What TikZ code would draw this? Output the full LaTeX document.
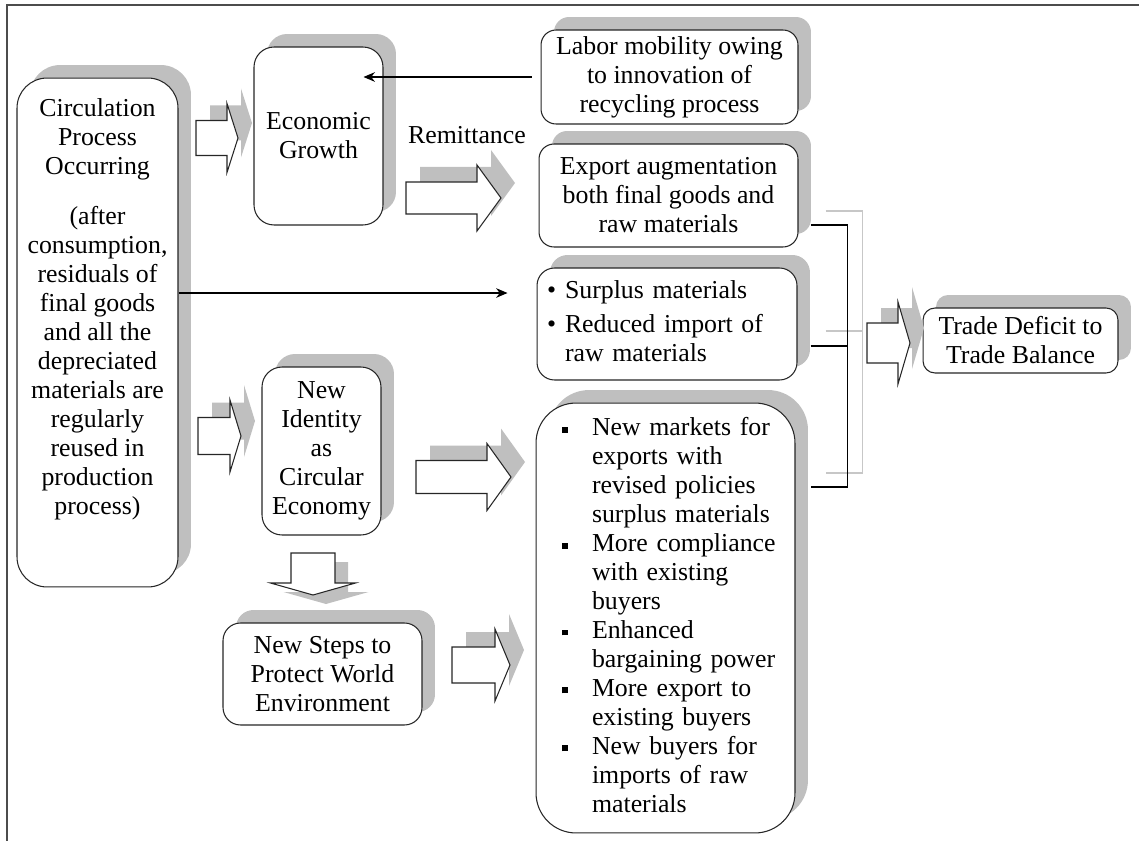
\documentclass[tikz,border=0pt]{standalone}
\usepackage{fontspec}
\setmainfont{Liberation Serif}
\usepackage{tikz}
\usetikzlibrary{shadows,positioning,calc,arrows.meta}

\newcommand{\sqbullet}{\rule[1.6pt]{3.4pt}{3.4pt}}

\tikzset{
    box/.style={rectangle, draw=black!85, line width=0.6pt, fill=white, rounded corners=#1,
        align=center, inner sep=2pt,
        drop shadow={shadow xshift=0.26cm, shadow yshift=0.26cm, fill=black!25, opacity=1}},
    box/.default=0.3cm,
    blockline/.style={draw=black!85, line width=0.6pt, fill=white},
    % length / head length / half shaft / half head / shadow x / shadow y
    pics/blockarrow/.style args={#1/#2/#3/#4/#5/#6}{code={
        \fill[black!25, shift={(#5,#6)}] (0,-#3) -- ++(#1-#2,0) -- ++(0,#3-#4) -- ++(#2,#4) -- ++(-#2,#4) -- ++(0,#3-#4) -- ++(#2-#1,0) -- cycle;
        \draw[blockline] (0,-#3) -- ++(#1-#2,0) -- ++(0,#3-#4) -- ++(#2,#4) -- ++(-#2,#4) -- ++(0,#3-#4) -- ++(#2-#1,0) -- cycle;
    }},
    arrow/.style={-{Stealth[length=6.5pt,width=5.5pt]}, line width=0.6pt},
    link/.style={line width=0.6pt},
    linkshade/.style={line width=0.6pt, black!22},
    frame/.style={line width=1.2pt, black!70},
    every node/.style={font=\fontsize{14.7}{16.5}\selectfont}
}

\begin{document}
\begin{tikzpicture}[x=0.02cm, y=-0.02cm]
    \useasboundingbox (0,0) rectangle (1139,841);
    \draw[frame] (1139,5) -- (7,5) -- (7,841);

    % boxes
    \node[box=0.6cm, minimum width=3.22cm, minimum height=10.18cm] (circ) at (97.5,332.5)
        {Circulation\\Process\\Occurring\\[0.42cm](after\\consumption,\\residuals of\\final goods\\and all the\\depreciated\\materials are\\regularly\\reused in\\production\\process)\\[0.45cm]\mbox{}};
    \node[box=0.4cm, minimum width=2.58cm, minimum height=3.56cm] (econ) at (318.5,136) {Economic\\Growth};
    \node[box, minimum width=5.14cm, minimum height=1.88cm] (labor) at (669.5,77)
        {Labor mobility owing\\to innovation of\\recycling process};
    \node[box, minimum width=5.18cm, minimum height=2.06cm] (export) at (668.5,195.5)
        {Export augmentation\\both final goods and\\raw materials};
    \node[box=0.35cm, minimum width=5.2cm, minimum height=2.24cm, text width=4.8cm, inner xsep=0.2cm, align=left] (surplus) at (667,324)
        {\begin{tabular}{@{}p{0.36cm}@{}l@{}}
        \textbullet & Surplus materials\\[3pt]
        \textbullet & Reduced import of\\
         & raw materials
        \end{tabular}};
    \node[box=0.8cm, minimum width=5.18cm, minimum height=8.6cm, text width=4.14cm, inner xsep=0.52cm, align=left] (bigbox) at (665.5,618)
        {\begin{tabular}{@{}p{0.6cm}@{}l@{}}
        \sqbullet & New markets for\\
         & exports with\\
         & revised policies\\
         & surplus materials\\
        \sqbullet & More compliance\\
         & with existing\\
         & buyers\\
        \sqbullet & Enhanced\\
         & bargaining power\\
        \sqbullet & More export to\\
         & existing buyers\\
        \sqbullet & New buyers for\\
         & imports of raw\\
         & materials
        \end{tabular}};
    \node[box=0.24cm, minimum width=3.9cm, minimum height=1.3cm] (trade) at (1020.5,340.5) {Trade Deficit to\\Trade Balance};
    \node[box=0.4cm, minimum width=2.38cm, minimum height=3.36cm] (newid) at (321.5,451) {New\\Identity\\as\\Circular\\Economy};
    \node[box=0.35cm, minimum width=3.98cm, minimum height=2.04cm] (steps) at (322.5,674) {New Steps to\\Protect World\\Environment};
    \node (remit) at (467,135) {Remittance};

    % block arrows
    \pic (a1) at (196,138) {blockarrow=42/11/17.5/34.5/14/-15};
    \pic (a2) at (406,198) {blockarrow=95/24/16/33/14/-15};
    \pic (a3) at (198,436) {blockarrow=43/11/18.5/36/14/-15};
    \pic (a4) at (416,477) {blockarrow=95/24/16.5/33.5/14/-15};
    \pic (a5) at (452,665) {blockarrow=58/15/18/36/14/-15};
    \pic[rotate=-90] (a6) at (313,553) {blockarrow=42/12/22/42.5/9/-13};
    \pic (a7) at (867,343) {blockarrow=43/12/20/41/14/-15};

    % thin arrows
    \draw[arrow, shorten <=0.18cm, shorten >=-0.4cm] (labor.west) -- (econ.east |- labor.west);
    \coordinate (c1) at ([yshift=0.79cm]circ.east);
    \draw[arrow, shorten >=0.58cm] (c1) -- (c1 -| surplus.west);

    % bracket
    \draw[linkshade] ($(export.east)+(27,15.5)$) -| ($(bigbox.east)+(67,-145)$) -- ($(bigbox.east)+(30,-145)$);
    \draw[linkshade] ($(surplus.east)+(28,7)$) -- +(37,0);
    \draw[link] ($(export.east)+(12,29.5)$) -| ($(bigbox.east)+(52,-131)$) -- ($(bigbox.east)+(15,-131)$);
    \draw[link] ($(surplus.east)+(13,22)$) -- +(37,0);
\end{tikzpicture}
\end{document}
